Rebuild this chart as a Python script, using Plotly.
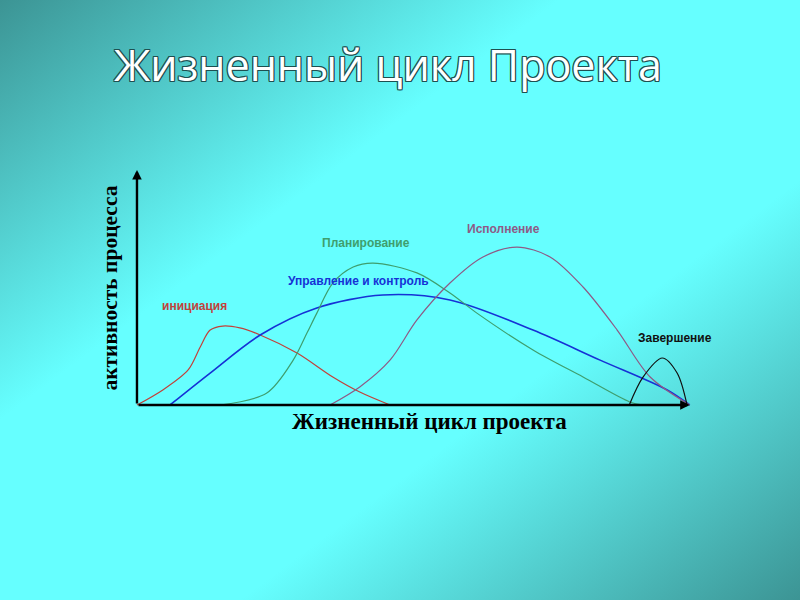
import base64
import plotly.graph_objects as go

# --------------------------------------------------------------------------
# data (x: project time 0..100, y: process activity 0..100)

init_x = [0, 4.7, 9.3, 11.5, 13.3, 15.6, 18.7, 22.4, 29.1, 35.6, 40.5, 46]
init_y = [0, 6.4, 14.9, 24.7, 31.9, 33.6, 32.8, 29.8, 22.1, 11.9, 5.5, 0]

ctrl_x = [6, 13.3, 22.4, 32.7, 44.7, 56.9, 72, 84.2, 96.4, 100.5]
ctrl_y = [0, 13.6, 29.8, 41.3, 46.8, 44.7, 31.9, 19.1, 6.4, 0]

plan_x = [15.1, 23.6, 28.4, 30.9, 32.7, 35.6, 39.3, 42.9, 50.9, 56.9, 61.8, 72, 81.1, 89.6, 92]
plan_y = [0, 5.1, 19.1, 30.6, 39.1, 51.9, 58.7, 60.4, 56.2, 47.7, 39.1, 23.4, 11.9, 1.3, 0]

exec_x = [35.1, 40.5, 46, 50.9, 56.9, 62.9, 69.1, 75.1, 81.1, 87.3, 93.3, 100.5]
exec_y = [0, 7.7, 19.1, 36.2, 51.9, 63, 67.2, 63, 50.2, 31.9, 11.9, 0]

close_x = [89.5, 92, 95.5, 98.2, 100]
close_y = [0, 11.9, 20, 13.6, 0]

phase_names = ["инициация", "Управление и контроль", "Планирование", "Исполнение", "Завершение"]
phase_label_x = [10.5, 40.3, 41.6, 66.7, 97.8]
phase_label_y = [42.3, 52.9, 68.8, 75, 28.6]

# --------------------------------------------------------------------------

colors = ["#c2413a", "#1632d6", "#3f9e6e", "#8e5a86", "#101010"]
widths = [1.2, 1.6, 1.2, 1.2, 1.2]
series = [
    (init_x, init_y),
    (ctrl_x, ctrl_y),
    (plan_x, plan_y),
    (exec_x, exec_y),
    (close_x, close_y),
]

bg_svg = (
    '<svg xmlns="http://www.w3.org/2000/svg" width="800" height="600" preserveAspectRatio="none">'
    '<defs><linearGradient id="g" x1="0" y1="0" x2="1" y2="1">'
    '<stop offset="0" stop-color="#3c9494"/>'
    '<stop offset="0.35" stop-color="#66ffff"/>'
    '<stop offset="0.65" stop-color="#66ffff"/>'
    '<stop offset="1" stop-color="#3c9494"/>'
    '</linearGradient></defs>'
    '<rect width="800" height="600" fill="url(#g)"/></svg>'
)
bg_src = "data:image/svg+xml;base64," + base64.b64encode(bg_svg.encode()).decode()

fig = go.Figure()

for (xs, ys), name, col, w in zip(series, phase_names, colors, widths):
    fig.add_trace(go.Scatter(
        x=xs, y=ys, name=name, mode="lines",
        line=dict(color=col, width=w, shape="spline", smoothing=0.9),
        cliponaxis=False, hoverinfo="skip", showlegend=False
    ))

for name, lx, ly, col in zip(phase_names, phase_label_x, phase_label_y, colors):
    fig.add_annotation(
        x=lx, y=ly, text=f"<b>{name}</b>", showarrow=False,
        font=dict(family="Liberation Sans, Arial", size=12, color=col)
    )

# axis arrows
fig.add_annotation(x=100.5, y=0, ax=0, ay=0, axref="x", ayref="y", text="",
                   showarrow=True, arrowhead=2, arrowsize=0.8, arrowwidth=2.4, arrowcolor="black")
fig.add_annotation(x=0, y=100, ax=0, ay=0, axref="x", ayref="y", text="",
                   showarrow=True, arrowhead=2, arrowsize=0.8, arrowwidth=2.4, arrowcolor="black")

outline = ", ".join(f"{dx}px {dy}px 0 #1e4f50" for dx, dy in
                    [(1, 1), (-1, -1), (1, -1), (-1, 1), (1, 0), (-1, 0), (0, 1), (0, -1)])
fig.add_annotation(
    x=0.485, y=0.892, xref="paper", yref="paper", text="Жизненный цикл Проекта",
    xanchor="center", yanchor="middle", showarrow=False,
    font=dict(family="Open Sans", size=43, color="white", shadow=outline)
)
fig.add_annotation(
    x=0.537, y=0.297, xref="paper", yref="paper", text="<b>Жизненный цикл проекта</b>",
    xanchor="center", yanchor="middle", showarrow=False,
    font=dict(family="Liberation Serif, Times New Roman", size=23, color="black")
)
fig.add_annotation(
    x=0.137, y=0.52, xref="paper", yref="paper", text="<b>активность процесса</b>",
    xanchor="center", yanchor="middle", showarrow=False, textangle=-90,
    font=dict(family="Liberation Serif, Times New Roman", size=21.5, color="black")
)

fig.update_layout(
    width=800, height=600,
    margin=dict(l=0, r=0, t=0, b=0),
    paper_bgcolor="#5fe8e8",
    plot_bgcolor="rgba(0,0,0,0)",
    images=[dict(source=bg_src, xref="paper", yref="paper", x=0, y=1,
                 sizex=1, sizey=1, sizing="stretch", layer="below")],
    xaxis=dict(range=[-3, 103], domain=[0.1506, 0.8794], visible=False, fixedrange=True),
    yaxis=dict(range=[-3, 103], domain=[0.31325, 0.72842], visible=False, fixedrange=True),
)

# page margin off so the slide fills the window
fig.write_html("out.html", config={"displayModeBar": False},
               post_script="document.body.style.margin = '0';")
